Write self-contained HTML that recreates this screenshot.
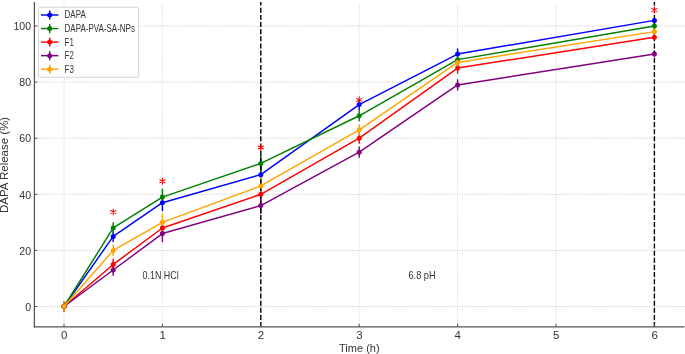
<!DOCTYPE html><html><head><meta charset="utf-8"><style>
html,body{margin:0;padding:0;background:#fff;width:685px;height:354px;overflow:hidden}
svg{display:block;will-change:transform;filter:blur(0.4px)}
text{font-family:"Liberation Sans",sans-serif;fill:#333}
</style></head><body>
<svg width="685" height="354" viewBox="0 0 685 354">
<rect width="685" height="354" fill="#fff"/>
<g stroke="#c0c0c0" stroke-width="0.8"><line x1="64.00" y1="326.80" x2="64.00" y2="2.00" stroke-dasharray="1.3 1.5" stroke="#cbcbcb"/><line x1="162.40" y1="326.80" x2="162.40" y2="2.00" stroke-dasharray="1.3 1.5" stroke="#cbcbcb"/><line x1="260.80" y1="326.80" x2="260.80" y2="2.00" stroke-dasharray="1.3 1.5" stroke="#cbcbcb"/><line x1="359.20" y1="326.80" x2="359.20" y2="2.00" stroke-dasharray="1.3 1.5" stroke="#cbcbcb"/><line x1="457.60" y1="326.80" x2="457.60" y2="2.00" stroke-dasharray="1.3 1.5" stroke="#cbcbcb"/><line x1="556.00" y1="326.80" x2="556.00" y2="2.00" stroke-dasharray="1.3 1.5" stroke="#cbcbcb"/><line x1="654.40" y1="326.80" x2="654.40" y2="2.00" stroke-dasharray="1.3 1.5" stroke="#cbcbcb"/><line x1="34.40" y1="306.50" x2="685.00" y2="306.50" stroke-dasharray="1.1 1.4" stroke="#bfbfbf"/><line x1="34.40" y1="250.40" x2="685.00" y2="250.40" stroke-dasharray="1.1 1.4" stroke="#bfbfbf"/><line x1="34.40" y1="194.30" x2="685.00" y2="194.30" stroke-dasharray="1.1 1.4" stroke="#bfbfbf"/><line x1="34.40" y1="138.20" x2="685.00" y2="138.20" stroke-dasharray="1.1 1.4" stroke="#bfbfbf"/><line x1="34.40" y1="82.10" x2="685.00" y2="82.10" stroke-dasharray="1.1 1.4" stroke="#bfbfbf"/><line x1="34.40" y1="26.00" x2="685.00" y2="26.00" stroke-dasharray="1.1 1.4" stroke="#bfbfbf"/></g>
<g stroke="#0000ff" stroke-width="1.45"><line x1="64.00" y1="312.11" x2="64.00" y2="300.89"/><line x1="113.20" y1="241.99" x2="113.20" y2="230.76"/><line x1="162.40" y1="211.13" x2="162.40" y2="194.30"/><line x1="260.80" y1="183.08" x2="260.80" y2="166.25"/><line x1="359.20" y1="110.15" x2="359.20" y2="98.93"/><line x1="457.60" y1="59.66" x2="457.60" y2="48.44"/><line x1="654.40" y1="23.19" x2="654.40" y2="17.58"/></g>
<g stroke="#008000" stroke-width="1.45"><line x1="64.00" y1="312.11" x2="64.00" y2="300.89"/><line x1="113.20" y1="233.57" x2="113.20" y2="222.35"/><line x1="162.40" y1="205.52" x2="162.40" y2="188.69"/><line x1="260.80" y1="171.86" x2="260.80" y2="155.03"/><line x1="359.20" y1="121.37" x2="359.20" y2="110.15"/><line x1="457.60" y1="65.27" x2="457.60" y2="54.05"/><line x1="654.40" y1="28.81" x2="654.40" y2="23.19"/></g>
<g stroke="#ff0000" stroke-width="1.45"><line x1="64.00" y1="312.11" x2="64.00" y2="300.89"/><line x1="113.20" y1="270.03" x2="113.20" y2="258.81"/><line x1="162.40" y1="236.38" x2="162.40" y2="219.55"/><line x1="260.80" y1="202.71" x2="260.80" y2="185.88"/><line x1="359.20" y1="143.81" x2="359.20" y2="132.59"/><line x1="457.60" y1="73.68" x2="457.60" y2="62.46"/><line x1="654.40" y1="40.02" x2="654.40" y2="34.41"/></g>
<g stroke="#800080" stroke-width="1.45"><line x1="64.00" y1="312.11" x2="64.00" y2="300.89"/><line x1="113.20" y1="275.64" x2="113.20" y2="264.43"/><line x1="162.40" y1="241.99" x2="162.40" y2="225.16"/><line x1="260.80" y1="213.94" x2="260.80" y2="197.10"/><line x1="359.20" y1="157.83" x2="359.20" y2="146.61"/><line x1="457.60" y1="90.51" x2="457.60" y2="79.29"/><line x1="654.40" y1="56.85" x2="654.40" y2="51.24"/></g>
<g stroke="#ffa500" stroke-width="1.45"><line x1="64.00" y1="312.11" x2="64.00" y2="300.89"/><line x1="113.20" y1="256.01" x2="113.20" y2="244.79"/><line x1="162.40" y1="230.76" x2="162.40" y2="213.94"/><line x1="260.80" y1="194.30" x2="260.80" y2="177.47"/><line x1="359.20" y1="135.39" x2="359.20" y2="124.17"/><line x1="457.60" y1="68.07" x2="457.60" y2="56.85"/><line x1="654.40" y1="34.41" x2="654.40" y2="28.81"/></g>
<line x1="260.80" y1="327.10" x2="260.80" y2="2.00" stroke="#000" stroke-width="1.4" stroke-dasharray="4.99 2.155"/>
<line x1="654.40" y1="327.10" x2="654.40" y2="2.00" stroke="#000" stroke-width="1.4" stroke-dasharray="4.99 2.155"/>
<polyline points="64.00,306.50 113.20,236.38 162.40,202.71 260.80,174.66 359.20,104.54 457.60,54.05 654.40,20.39" fill="none" stroke="#0000ff" stroke-width="1.45" stroke-linejoin="round"/>
<g fill="#0000ff"><circle cx="64.00" cy="306.50" r="2.50"/><circle cx="113.20" cy="236.38" r="2.50"/><circle cx="162.40" cy="202.71" r="2.50"/><circle cx="260.80" cy="174.66" r="2.50"/><circle cx="359.20" cy="104.54" r="2.50"/><circle cx="457.60" cy="54.05" r="2.50"/><circle cx="654.40" cy="20.39" r="2.50"/></g>
<polyline points="64.00,306.50 113.20,227.96 162.40,197.10 260.80,163.44 359.20,115.76 457.60,59.66 654.40,26.00" fill="none" stroke="#008000" stroke-width="1.45" stroke-linejoin="round"/>
<g fill="#008000"><circle cx="64.00" cy="306.50" r="2.50"/><circle cx="113.20" cy="227.96" r="2.50"/><circle cx="162.40" cy="197.10" r="2.50"/><circle cx="260.80" cy="163.44" r="2.50"/><circle cx="359.20" cy="115.76" r="2.50"/><circle cx="457.60" cy="59.66" r="2.50"/><circle cx="654.40" cy="26.00" r="2.50"/></g>
<polyline points="64.00,306.50 113.20,264.43 162.40,227.96 260.80,194.30 359.20,138.20 457.60,68.07 654.40,37.22" fill="none" stroke="#ff0000" stroke-width="1.45" stroke-linejoin="round"/>
<g fill="#ff0000"><circle cx="64.00" cy="306.50" r="2.50"/><circle cx="113.20" cy="264.43" r="2.50"/><circle cx="162.40" cy="227.96" r="2.50"/><circle cx="260.80" cy="194.30" r="2.50"/><circle cx="359.20" cy="138.20" r="2.50"/><circle cx="457.60" cy="68.07" r="2.50"/><circle cx="654.40" cy="37.22" r="2.50"/></g>
<polyline points="64.00,306.50 113.20,270.03 162.40,233.57 260.80,205.52 359.20,152.22 457.60,84.91 654.40,54.05" fill="none" stroke="#800080" stroke-width="1.45" stroke-linejoin="round"/>
<g fill="#800080"><circle cx="64.00" cy="306.50" r="2.50"/><circle cx="113.20" cy="270.03" r="2.50"/><circle cx="162.40" cy="233.57" r="2.50"/><circle cx="260.80" cy="205.52" r="2.50"/><circle cx="359.20" cy="152.22" r="2.50"/><circle cx="457.60" cy="84.91" r="2.50"/><circle cx="654.40" cy="54.05" r="2.50"/></g>
<polyline points="64.00,306.50 113.20,250.40 162.40,222.35 260.80,185.88 359.20,129.78 457.60,62.46 654.40,31.61" fill="none" stroke="#ffa500" stroke-width="1.45" stroke-linejoin="round"/>
<g fill="#ffa500"><circle cx="64.00" cy="306.50" r="2.50"/><circle cx="113.20" cy="250.40" r="2.50"/><circle cx="162.40" cy="222.35" r="2.50"/><circle cx="260.80" cy="185.88" r="2.50"/><circle cx="359.20" cy="129.78" r="2.50"/><circle cx="457.60" cy="62.46" r="2.50"/><circle cx="654.40" cy="31.61" r="2.50"/></g>
<path d="M113.20 209.06L113.20 215.06M110.60 210.56L115.80 213.56M110.60 213.56L115.80 210.56" stroke="#ff0000" stroke-width="1.05" stroke-linecap="round" fill="none"/>
<path d="M162.40 178.20L162.40 184.20M159.80 179.70L165.00 182.70M159.80 182.70L165.00 179.70" stroke="#ff0000" stroke-width="1.05" stroke-linecap="round" fill="none"/>
<path d="M260.80 144.54L260.80 150.54M258.20 146.04L263.40 149.04M258.20 149.04L263.40 146.04" stroke="#ff0000" stroke-width="1.05" stroke-linecap="round" fill="none"/>
<path d="M359.20 96.86L359.20 102.86M356.60 98.36L361.80 101.36M356.60 101.36L361.80 98.36" stroke="#ff0000" stroke-width="1.05" stroke-linecap="round" fill="none"/>
<path d="M654.40 7.10L654.40 13.10M651.80 8.60L657.00 11.60M651.80 11.60L657.00 8.60" stroke="#ff0000" stroke-width="1.05" stroke-linecap="round" fill="none"/>
<line x1="34.40" y1="2.00" x2="34.40" y2="327.45" stroke="#555" stroke-width="1.3"/>
<line x1="33.75" y1="326.80" x2="684.50" y2="326.80" stroke="#555" stroke-width="1.3"/>
<g stroke="#555" stroke-width="1"><line x1="64.00" y1="326.80" x2="64.00" y2="323.80"/><line x1="162.40" y1="326.80" x2="162.40" y2="323.80"/><line x1="260.80" y1="326.80" x2="260.80" y2="323.80"/><line x1="359.20" y1="326.80" x2="359.20" y2="323.80"/><line x1="457.60" y1="326.80" x2="457.60" y2="323.80"/><line x1="556.00" y1="326.80" x2="556.00" y2="323.80"/><line x1="654.40" y1="326.80" x2="654.40" y2="323.80"/><line x1="34.40" y1="306.50" x2="37.40" y2="306.50"/><line x1="34.40" y1="250.40" x2="37.40" y2="250.40"/><line x1="34.40" y1="194.30" x2="37.40" y2="194.30"/><line x1="34.40" y1="138.20" x2="37.40" y2="138.20"/><line x1="34.40" y1="82.10" x2="37.40" y2="82.10"/><line x1="34.40" y1="26.00" x2="37.40" y2="26.00"/></g>
<text x="64.20" y="339.0" font-size="11.5" text-anchor="middle">0</text>
<text x="162.60" y="339.0" font-size="11.5" text-anchor="middle">1</text>
<text x="261.00" y="339.0" font-size="11.5" text-anchor="middle">2</text>
<text x="359.40" y="339.0" font-size="11.5" text-anchor="middle">3</text>
<text x="457.80" y="339.0" font-size="11.5" text-anchor="middle">4</text>
<text x="556.20" y="339.0" font-size="11.5" text-anchor="middle">5</text>
<text x="654.60" y="339.0" font-size="11.5" text-anchor="middle">6</text>
<text transform="translate(31.1,310.75) scale(0.9,1)" font-size="11.8" text-anchor="end">0</text>
<text transform="translate(31.1,254.65) scale(0.9,1)" font-size="11.8" text-anchor="end">20</text>
<text transform="translate(31.1,198.55) scale(0.9,1)" font-size="11.8" text-anchor="end">40</text>
<text transform="translate(31.1,142.45) scale(0.9,1)" font-size="11.8" text-anchor="end">60</text>
<text transform="translate(31.1,86.35) scale(0.9,1)" font-size="11.8" text-anchor="end">80</text>
<text transform="translate(31.1,30.25) scale(0.9,1)" font-size="11.8" text-anchor="end">100</text>
<text transform="translate(359.3,351.8) scale(1.03,1)" font-size="10.7" text-anchor="middle">Time (h)</text>
<text transform="translate(7.9,164.9) rotate(-90) scale(1,0.87)" x="0" y="0" font-size="11.5" text-anchor="middle">DAPA Release (%)</text>
<text transform="translate(142.6,278.8) scale(0.873,1)" font-size="10.2">0.1N HCl</text>
<text transform="translate(408.5,278.7) scale(0.90,1)" font-size="10.2">6.8 pH</text>
<rect x="38.5" y="7.3" width="100.1" height="70.0" rx="1.2" fill="#fff" fill-opacity="0.8" stroke="#d0d0d0" stroke-width="0.9"/>
<line x1="41" y1="15.00" x2="58.4" y2="15.00" stroke="#0000ff" stroke-width="1.45"/>
<line x1="49.7" y1="10.40" x2="49.7" y2="19.60" stroke="#0000ff" stroke-width="1.45"/>
<circle cx="49.7" cy="15.00" r="2.50" fill="#0000ff"/>
<text transform="translate(64.6,18.40) scale(0.80,1)" font-size="10">DAPA</text>
<line x1="41" y1="28.55" x2="58.4" y2="28.55" stroke="#008000" stroke-width="1.45"/>
<line x1="49.7" y1="23.95" x2="49.7" y2="33.15" stroke="#008000" stroke-width="1.45"/>
<circle cx="49.7" cy="28.55" r="2.50" fill="#008000"/>
<text transform="translate(64.6,31.95) scale(0.80,1)" font-size="10">DAPA-PVA-SA-NPs</text>
<line x1="41" y1="42.10" x2="58.4" y2="42.10" stroke="#ff0000" stroke-width="1.45"/>
<line x1="49.7" y1="37.50" x2="49.7" y2="46.70" stroke="#ff0000" stroke-width="1.45"/>
<circle cx="49.7" cy="42.10" r="2.50" fill="#ff0000"/>
<text transform="translate(64.6,45.50) scale(0.80,1)" font-size="10">F1</text>
<line x1="41" y1="55.65" x2="58.4" y2="55.65" stroke="#800080" stroke-width="1.45"/>
<line x1="49.7" y1="51.05" x2="49.7" y2="60.25" stroke="#800080" stroke-width="1.45"/>
<circle cx="49.7" cy="55.65" r="2.50" fill="#800080"/>
<text transform="translate(64.6,59.05) scale(0.80,1)" font-size="10">F2</text>
<line x1="41" y1="69.20" x2="58.4" y2="69.20" stroke="#ffa500" stroke-width="1.45"/>
<line x1="49.7" y1="64.60" x2="49.7" y2="73.80" stroke="#ffa500" stroke-width="1.45"/>
<circle cx="49.7" cy="69.20" r="2.50" fill="#ffa500"/>
<text transform="translate(64.6,72.60) scale(0.80,1)" font-size="10">F3</text>
</svg></body></html>
